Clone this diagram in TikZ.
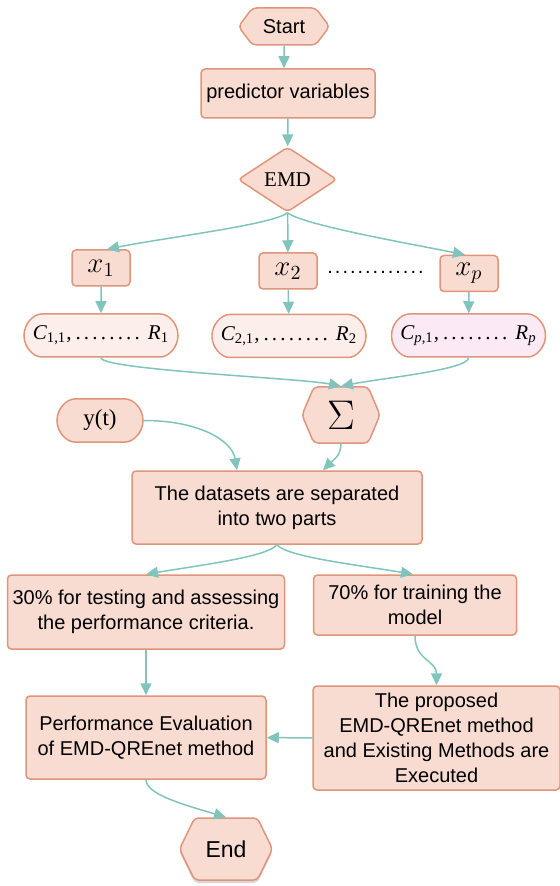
\documentclass[tikz,border=0pt]{standalone}
\usepackage{fontspec}
\setmainfont{Liberation Sans}
\newfontfamily\serifrm{Liberation Serif}
\usepackage{amsmath}
\usetikzlibrary{arrows.meta, positioning, shapes.geometric, shapes.symbols, shapes.misc, shadows, calc}

\definecolor{boxfill}{HTML}{F9DCD1}
\definecolor{boxline}{HTML}{E0957B}
\definecolor{flow}{HTML}{80C4BC}
\definecolor{palefill}{HTML}{FCEEEA}
\definecolor{lilacfill}{HTML}{FBEAF6}

% run of dots and one line of components
\newcommand{\dotrun}[2][1pt]{\foreach \i in {2,...,#2}{.\kern#1}.}
\newcommand{\compline}[3]{{\serifrm\itshape #1}\textsubscript{\serifrm #2}{\serifrm,\kern2pt\dotrun[1.6pt]{8}\kern4pt}{\serifrm\itshape R}\textsubscript{\serifrm #3}}

\begin{document}
\begin{tikzpicture}[x=0.5pt, y=-0.5pt,
    every node/.style={font=\fontsize{10}{12.5}\selectfont},
    box/.style={draw=boxline, fill=boxfill, line width=0.75pt, rounded corners=2pt, align=center, inner sep=2pt},
    hexbox/.style={box, shape=signal, signal to=west and east},
    pill/.style={box, shape=rounded rectangle, fill=palefill, font=\fontsize{10.5}{12}\selectfont},
    varbox/.style={box, minimum width=29pt, minimum height=18pt, font=\fontsize{14}{16}\selectfont},
    flowline/.style={draw=flow, line width=0.75pt, -{Triangle[length=6pt, width=5.5pt]}}]
        \useasboundingbox (0,0) rectangle (559,886);

        % Start, predictors and decomposition
        \node[hexbox, minimum width=45.5pt, minimum height=18.5pt, signal pointer angle=106] (start) at (284,26.5) {Start};
        \node[box, minimum width=87pt, minimum height=24.5pt] (pred) at (288,93.5) {predictor variables};
        \node[box, diamond, inner sep=0pt, minimum width=49.5pt, minimum height=32.5pt, font=\serifrm\fontsize{10.5}{12}\selectfont] (emd) at (287.5,179.5) {EMD};
        \draw[flowline] (start) -- (start |- pred.north);
        \draw[flowline] (pred) -- (emd);

        % Components of each variable
        \node[varbox] (x1) at (101,268) {$x_1$};
        \node[varbox] (x2) at (288,271) {$x_2$};
        \node[varbox] (xp) at (469,273.5) {$x_p$};
        \node[anchor=base] (gap) at (375.5,274) {\dotrun{13}};
        \draw[flowline] (emd.south) .. controls +(-15,12) and +(60,-12) .. ([xshift=3pt]x1.north);
        \draw[flowline] (emd) -- (x2);
        \draw[flowline] (emd.south) .. controls +(15,12) and +(-60,-12) .. ([xshift=-2pt]xp.north);

        \node[pill, minimum width=81pt, minimum height=21.5pt] (c1) at (101,335.5) {\compline{C}{1,1}{1}};
        \node[pill, minimum width=81pt, minimum height=21.5pt] (c2) at (289,336) {\compline{C}{2,1}{2}};
        \node[pill, fill=lilacfill, minimum width=81pt, minimum height=21.5pt] (cp) at (468.5,335.5) {\compline{C}{\itshape p\upshape,1}{\itshape p}};
        \draw[flowline] (x1) -- (c1);
        \draw[flowline] (x2) -- (c2);
        \draw[flowline] (xp) -- (cp);

        % Sum of the components and target
        \node[hexbox, minimum width=39pt, minimum height=28pt, signal pointer angle=134, font=\fontsize{20}{22}\selectfont] (sum) at (341,415) {$\Sigma$};
        \node[pill, fill=boxfill, minimum width=47pt, minimum height=21.5pt, font=\serifrm\fontsize{11.5}{13}\selectfont] (yt) at (100,420.5) {y(t)};
        \draw[flowline] (c1.south) .. controls +(0,12) and +(-40,-8) .. (sum.north);
        \draw[flowline] (cp.south) .. controls +(0,12) and +(40,-8) .. (sum.north);

        % Splitting of the data
        \node[box, minimum width=145pt, minimum height=36.5pt] (split) at (277,507.5) {The datasets are separated\\into two parts};
        \draw[flowline] (yt.east) .. controls +(55,0) and +(-5,-30) .. ($(split.north)+(-40,0)$);
        \draw[flowline] (sum.south) .. controls +(0,12) and +(10,-10) .. ($(split.north)+(46,0)$);

        \node[box, minimum width=138.5pt, minimum height=37pt] (test) at (146,612) {30\% for testing and assessing\\the performance criteria.};
        \node[box, minimum width=101.5pt, minimum height=30pt] (train) at (415,605) {70\% for training the\\model};
        \draw[flowline] (split.south) .. controls +(-10,12) and +(60,-10) .. (test.north);
        \draw[flowline] (split.south) .. controls +(10,12) and +(-60,-10) .. ([xshift=-1pt]train.north);

        % Models and evaluation
        \node[box, minimum width=120pt, minimum height=41.5pt] (perf) at (146,737.5) {Performance Evaluation\\of EMD-QREnet method};
        \node[box, minimum width=123.5pt, minimum height=52pt] (prop) at (436.5,738) {The proposed\\EMD-QREnet method\\and Existing Methods are\\Executed};
        \node[hexbox, minimum width=46.5pt, minimum height=31pt, signal pointer angle=128, font=\fontsize{11.5}{13}\selectfont,
              drop shadow={shadow xshift=0pt, shadow yshift=-1.5pt, fill=black!35, opacity=0.45}] (end) at (226,849) {End};
        \draw[flowline] (test) -- (perf);
        \draw[flowline] (train.south) .. controls +(0,25) and +(0,-25) .. (prop.north);
        \draw[flowline] (prop) -- (perf);
        \draw[flowline] (perf.south) .. controls +(0,15) and +(-40,-12) .. (end.north);
\end{tikzpicture}
\end{document}
